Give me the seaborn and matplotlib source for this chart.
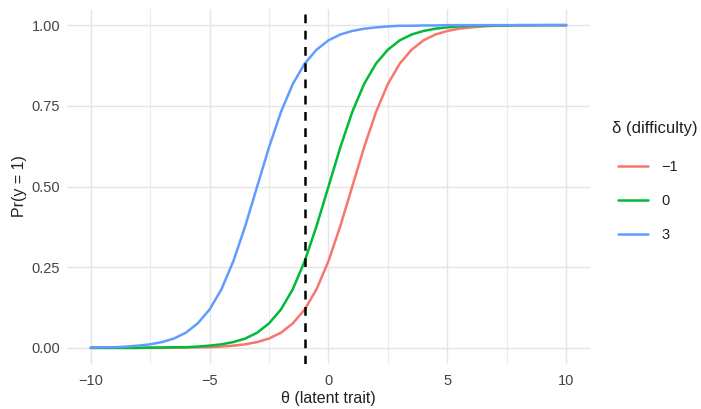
import pandas as pd
import seaborn as sns
import matplotlib.pyplot as plt
import numpy as np

theta = [-10.0, -9.5, -9.0, -8.5, -8.0, -7.5, -7.0, -6.5, -6.0, -5.5,
         -5.0, -4.5, -4.0, -3.5, -3.0, -2.5, -2.0, -1.5, -1.0, -0.5,
         0.0, 0.5, 1.0, 1.5, 2.0, 2.5, 3.0, 3.5, 4.0, 4.5,
         5.0, 5.5, 6.0, 6.5, 7.0, 7.5, 8.0, 8.5, 9.0, 9.5, 10.0]

p_minus1 = [0.000, 0.000, 0.000, 0.000, 0.000, 0.000, 0.000, 0.001, 0.001, 0.002,
            0.002, 0.004, 0.007, 0.011, 0.018, 0.029, 0.047, 0.076, 0.119, 0.182,
            0.269, 0.378, 0.500, 0.622, 0.731, 0.818, 0.881, 0.924, 0.953, 0.971,
            0.982, 0.989, 0.993, 0.996, 0.998, 0.998, 0.999, 0.999, 1.000, 1.000, 1.000]
p_0 = [0.000, 0.000, 0.000, 0.000, 0.000, 0.001, 0.001, 0.002, 0.002, 0.004,
       0.007, 0.011, 0.018, 0.029, 0.047, 0.076, 0.119, 0.182, 0.269, 0.378,
       0.500, 0.622, 0.731, 0.818, 0.881, 0.924, 0.953, 0.971, 0.982, 0.989,
       0.993, 0.996, 0.998, 0.998, 0.999, 0.999, 1.000, 1.000, 1.000, 1.000, 1.000]
p_3 = [0.001, 0.002, 0.002, 0.004, 0.007, 0.011, 0.018, 0.029, 0.047, 0.076,
       0.119, 0.182, 0.269, 0.378, 0.500, 0.622, 0.731, 0.818, 0.881, 0.924,
       0.953, 0.971, 0.982, 0.989, 0.993, 0.996, 0.998, 0.998, 0.999, 0.999,
       1.000, 1.000, 1.000, 1.000, 1.000, 1.000, 1.000, 1.000, 1.000, 1.000, 1.000]

levels = ["\u22121", "0", "3"]
colors = ["#F8766D", "#00BA38", "#619CFF"]
theta_ref = -1

df = pd.DataFrame({
    "theta": theta * 3,
    "p": p_minus1 + p_0 + p_3,
    "delta": [levels[0]] * len(theta) + [levels[1]] * len(theta) + [levels[2]] * len(theta),
})

sns.set_theme(style="white")
plt.rcParams['font.family'] = ['Liberation Sans', 'DejaVu Sans']

fig = plt.figure(figsize=(7.01, 4.09), dpi=100)
ax = fig.add_axes([0.0956, 0.110, 0.746, 0.868])

ax.set_xticks([-7.5, -2.5, 2.5, 7.5], minor=True)
ax.grid(which='major', color='#e5e5e5', linewidth=1.0)
ax.grid(which='minor', axis='x', color='#ececec', linewidth=0.8)
ax.set_axisbelow(True)

sns.lineplot(data=df, x="theta", y="p", hue="delta", hue_order=levels,
             palette=colors, linewidth=1.8, ax=ax, legend=False)
ax.axvline(theta_ref, color='black', linestyle=(0, (3.5, 3)), linewidth=1.8)

ax.set_xlim(-11, 11)
ax.set_ylim(-0.05, 1.05)
ax.set_xticks([-10, -5, 0, 5, 10])
ax.set_yticks([0, 0.25, 0.5, 0.75, 1.0])
ax.set_yticklabels(["0.00", "0.25", "0.50", "0.75", "1.00"])
ax.tick_params(axis='x', which='both', length=0, labelsize=10.5,
               labelcolor='#444444', pad=7)
ax.tick_params(axis='y', which='both', length=0, labelsize=10.5,
               labelcolor='#444444', pad=5)
for s in ax.spines.values():
    s.set_visible(False)

ax.set_xlabel("\u03b8 (latent trait)", fontsize=11.5, color='#222222', labelpad=2)
ax.set_ylabel("Pr(y = 1)", fontsize=11.5, color='#222222', labelpad=3)

fig.text(612 / 701, 1 - 128 / 409, "\u03b4 (difficulty)", fontsize=12,
         color='#222222', ha='left', va='center')
handles = [plt.Line2D([], [], color=c, linewidth=1.8) for c in colors]
leg = fig.legend(handles, levels, loc='upper left',
                 bbox_to_anchor=(618 / 701, 1 - 160 / 409), frameon=False,
                 fontsize=10.5, handlelength=2.05, labelspacing=1.38,
                 handletextpad=0.9, borderaxespad=0, borderpad=0)
for t in leg.get_texts():
    t.set_color('#222222')

fig.savefig("out.png", dpi=100, facecolor='white')
